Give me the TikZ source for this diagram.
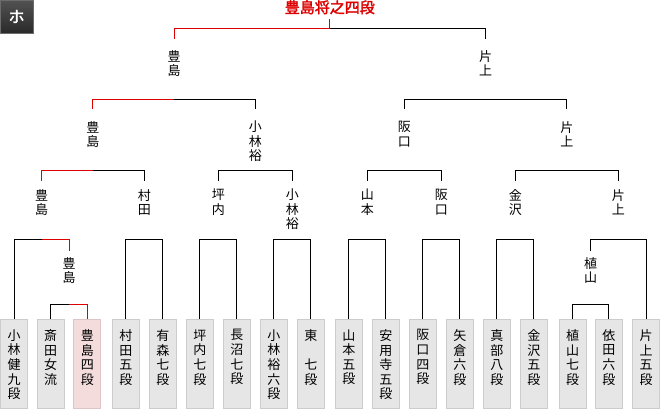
\documentclass[tikz,border=0pt]{standalone}
\usepackage{fontspec}
\newfontfamily\jpfont[AutoFakeBold=2]{Noto Sans CJK JP}
\usepackage{xcolor}
\definecolor{winred}{RGB}{220,0,0}
\definecolor{boxgray}{RGB}{230,230,230}
\definecolor{boxline}{RGB}{204,204,204}
\definecolor{boxpink}{RGB}{244,220,220}
\definecolor{pinkline}{RGB}{222,196,196}
\definecolor{tagtop}{RGB}{82,82,82}
\definecolor{tagbot}{RGB}{42,42,42}
\usepackage{tikz}
\usetikzlibrary{calc}

% vertical name inside a player box
\newcommand{\tate}[1]{\parbox[c][69pt][t]{16pt}{\centering #1}}

\begin{document}
\begin{tikzpicture}[
  x=1pt, y=-1pt,
  player/.style={rectangle, draw=boxline, fill=boxgray, line width=1pt,
                 minimum width=27pt, minimum height=89pt, inner xsep=0pt,
                 inner ysep=10pt, anchor=north,
                 font=\jpfont\fontsize{13}{14.6}\selectfont},
  champ/.style={player, draw=pinkline, fill=boxpink},
  lbl/.style={anchor=north, inner sep=0pt, align=center,
              font=\jpfont\fontsize{13}{14.4}\selectfont},
  tag/.style={rectangle, draw=tagtop!85!white, top color=tagtop, bottom color=tagbot,
              minimum size=33pt, inner sep=0pt, text=white,
              font=\jpfont\bfseries\fontsize{16}{16}\selectfont},
  lose/.style={draw=black, line width=1pt},
  win/.style={draw=winred, line width=1pt}
]
  \useasboundingbox (0,0) rectangle (660,409);

  \node[tag] (tag) at (16.5,16.5) {ホ};
  \node[inner sep=0pt, text=winred, font=\jpfont\bfseries\fontsize{15}{15}\selectfont]
    (title) at (329.8,7.3) {豊島将之四段};

  % bracket levels
  \coordinate (r0) at (0,28.3);
  \coordinate (r1) at (0,99.3);
  \coordinate (r2) at (0,170.3);
  \coordinate (r3) at (0,239.3);
  \coordinate (r4) at (0,304.3);

  % players
  \node[player] (p1)  at (14,319)    {\tate{小\\林\\健\\九\\段}};
  \node[player] (p2)  at (50.7,319)  {\tate{斎\\田\\女\\流}};
  \node[champ]  (p3)  at (87.3,319)  {\tate{豊\\島\\四\\段}};
  \node[player] (p4)  at (125.8,319) {\tate{村\\田\\五\\段}};
  \node[player] (p5)  at (162.8,319) {\tate{有\\森\\七\\段}};
  \node[player] (p6)  at (199.8,319) {\tate{坪\\内\\七\\段}};
  \node[player] (p7)  at (236.8,319) {\tate{長\\沼\\七\\段}};
  \node[player] (p8)  at (273.8,319) {\tate{小\\林\\裕\\六\\段}};
  \node[player] (p9)  at (310.8,319) {\tate{東\\\mbox{}\\七\\段}};
  \node[player] (p10) at (348.8,319) {\tate{山\\本\\五\\段}};
  \node[player] (p11) at (385.8,319) {\tate{安\\用\\寺\\五\\段}};
  \node[player] (p12) at (422.8,319) {\tate{阪\\口\\四\\段}};
  \node[player] (p13) at (459.8,319) {\tate{矢\\倉\\六\\段}};
  \node[player] (p14) at (496.8,319) {\tate{真\\部\\八\\段}};
  \node[player] (p15) at (533.8,319) {\tate{金\\沢\\五\\段}};
  \node[player] (p16) at (572.5,319) {\tate{植\\山\\七\\段}};
  \node[player] (p17) at (608.8,319) {\tate{依\\田\\六\\段}};
  \node[player] (p18) at (646,319)   {\tate{片\\上\\五\\段}};

  % winners
  \node[lbl] (s1) at (69,257)    {豊\\島};
  \node[lbl] (s2) at (590.6,257) {植\\山};
  \node[lbl] (q1) at (41.5,189)  {豊\\島};
  \node[lbl] (q2) at (144.3,189) {村\\田};
  \node[lbl] (q3) at (218.3,189) {坪\\内};
  \node[lbl] (q4) at (292.3,189) {小\\林\\裕};
  \node[lbl] (q5) at (367.3,189) {山\\本};
  \node[lbl] (q6) at (441.3,189) {阪\\口};
  \node[lbl] (q7) at (515.3,189) {金\\沢};
  \node[lbl] (q8) at (618.3,189) {片\\上};
  \node[lbl] (h1) at (92.9,121)  {豊\\島};
  \node[lbl] (h2) at (255.3,121) {小\\林\\裕};
  \node[lbl] (h3) at (404.3,121) {阪\\口};
  \node[lbl] (h4) at (566.8,121) {片\\上};
  \node[lbl] (t1) at (174.1,50)  {豊\\島};
  \node[lbl] (t2) at (485.6,50)  {片\\上};

  % brackets
  \foreach \lv/\pa/\ch/\gap in {r0/title/t2/11pt,
      r1/t1/h2/12pt, r1/t2/h3/12pt, r1/t2/h4/12pt,
      r2/h1/q2/8pt, r2/h2/q3/8pt, r2/h2/q4/8pt, r2/h3/q5/8pt,
      r2/h3/q6/8pt, r2/h4/q7/8pt, r2/h4/q8/8pt,
      r3/q1/p1/0pt, r3/q2/p4/0pt, r3/q2/p5/0pt, r3/q3/p6/0pt, r3/q3/p7/0pt,
      r3/q4/p8/0pt, r3/q4/p9/0pt, r3/q5/p10/0pt, r3/q5/p11/0pt,
      r3/q6/p12/0pt, r3/q6/p13/0pt, r3/q7/p14/0pt, r3/q7/p15/0pt,
      r3/q8/s2/6pt, r3/q8/p18/0pt,
      r4/s1/p2/0pt, r4/s2/p16/0pt, r4/s2/p17/0pt}
    \draw[lose, shorten >=\gap] (\lv -| \pa) -| (\ch.north);

  % winning path
  \draw[win, shorten <=5pt] (title.south) -- (r0 -| title);
  \foreach \lv/\pa/\ch/\gap in {r0/title/t1/11pt, r1/t1/h1/12pt,
      r2/h1/q1/8pt, r3/q1/s1/6pt, r4/s1/p3/0pt}
    \draw[win, shorten >=\gap] (\lv -| \pa) -| (\ch.north);
\end{tikzpicture}
\end{document}
